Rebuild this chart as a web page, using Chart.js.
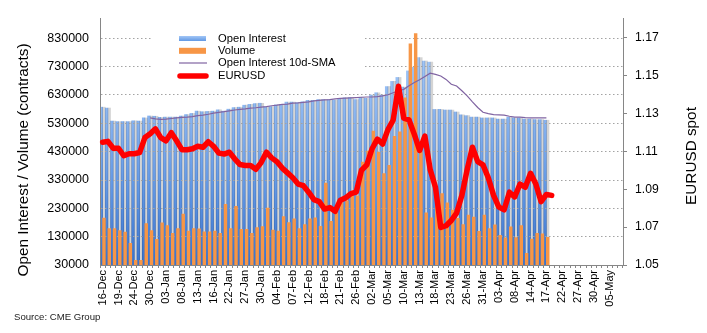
<!DOCTYPE html>
<html>
<head>
<meta charset="utf-8">
<script src="https://cdn.jsdelivr.net/npm/chart.js@4.4.1/dist/chart.umd.min.js"></script>
<style>
    body { margin: 0; background: #fff; }
    canvas { display: block; }
</style>
</head>
<body>
<canvas id="myChart" width="707" height="333"></canvas>
<script>
// trading days (CME), a label is shown every 3rd day
var dates = [
    "16-Dec","17-Dec","18-Dec","19-Dec","20-Dec","23-Dec","24-Dec","26-Dec","27-Dec","30-Dec","31-Dec",
    "02-Jan","03-Jan","06-Jan","07-Jan","08-Jan","09-Jan","10-Jan","13-Jan","14-Jan","15-Jan","16-Jan","17-Jan",
    "21-Jan","22-Jan","23-Jan","24-Jan","27-Jan","28-Jan","29-Jan","30-Jan","31-Jan",
    "03-Feb","04-Feb","05-Feb","06-Feb","07-Feb","10-Feb","11-Feb","12-Feb","13-Feb","14-Feb","18-Feb","19-Feb",
    "20-Feb","21-Feb","24-Feb","25-Feb","26-Feb","27-Feb","28-Feb",
    "02-Mar","03-Mar","04-Mar","05-Mar","06-Mar","09-Mar","10-Mar","11-Mar","12-Mar","13-Mar","16-Mar","17-Mar",
    "18-Mar","19-Mar","20-Mar","23-Mar","24-Mar","25-Mar","26-Mar","27-Mar","30-Mar","31-Mar",
    "01-Apr","02-Apr","03-Apr","06-Apr","07-Apr","08-Apr","09-Apr","13-Apr","14-Apr","15-Apr","16-Apr","17-Apr",
    "20-Apr","21-Apr","22-Apr","23-Apr","24-Apr","27-Apr","28-Apr","29-Apr","30-Apr",
    "01-May","04-May","05-May","06-May","07-May"
];

var openInterest = [
    587000, 584000, 538000, 536000, 536000, 536000, 539000, 538000, 549000, 556000,
    555000, 551000, 552000, 552000, 552000, 556000, 561000, 565000, 573000, 571000,
    572000, 573000, 578000, 573000, 580000, 586000, 587000, 594000, 597000, 600000,
    601000, 588000, 589000, 595000, 597000, 605000, 605000, 603000, 606000, 611000,
    611000, 614000, 614000, 614000, 612000, 617000, 620000, 621000, 614000, 622000,
    618000, 630000, 638000, 630000, 660000, 678000, 692000, 658000, 715000, 728000,
    762000, 750000, 746000, 579000, 579000, 577000, 577000, 570000, 560000, 557000,
    552000, 552000, 549000, 549000, 549000, 545000, 545000, 552000, 549000, 549000,
    545000, 545000, 543000, 543000, 541000
];

var volume = [
    197000, 160000, 160000, 153000, 147000, 108000, 48000, 48000, 177000, 153000,
    122000, 180000, 170000, 143000, 160000, 211000, 151000, 160000, 159000, 148000,
    148000, 151000, 143000, 245000, 160000, 238000, 157000, 157000, 143000, 163000,
    167000, 232000, 154000, 151000, 202000, 181000, 194000, 160000, 174000, 194000,
    198000, 168000, 320000, 185000, 215000, 253000, 258000, 275000, 275000, 394000,
    433000, 504000, 429000, 354000, 383000, 485000, 501000, 621000, 812000, 848000,
    430000, 215000, 198000, 260000, 283000, 251000, 225000, 196000, 174000, 207000,
    200000, 150000, 207000, 160000, 173000, 136000, 127000, 166000, 128000, 170000,
    72000, 123000, 143000, 141000, 129000
];

var oiSma10 = [
    null, null, null, null, null, null, null, null, null, 549000,
    546000, 544000, 545000, 547000, 549000, 551000, 552000, 554000, 557000, 559000,
    562000, 566000, 569000, 571000, 574000, 577000, 579000, 581000, 584000, 585000,
    587000, 589000, 592000, 594000, 597000, 598000, 601000, 602000, 604000, 606000,
    609000, 611000, 613000, 614000, 616000, 618000, 619000, 620000, 621000, 622000,
    623000, 623000, 624000, 627000, 631000, 638000, 645000, 650000, 663000, 674000,
    684000, 695000, 707000, 703000, 697000, 685000, 668000, 662000, 645000, 627000,
    606000, 586000, 569000, 564000, 561000, 560000, 559000, 555000, 552000, 552000,
    550000, 549000, 549000, 549000, 549000
];

var eurusd = [
    1.1147, 1.1152, 1.1116, 1.1116, 1.1076, 1.1087, 1.1087, 1.1093, 1.1172, 1.1192,
    1.1218, 1.1172, 1.1155, 1.1198, 1.1155, 1.1108, 1.1108, 1.1113, 1.1126, 1.1121,
    1.1150, 1.1126, 1.1090, 1.1085, 1.1095, 1.1060, 1.1030, 1.1025, 1.1025, 1.1005,
    1.1040, 1.1095, 1.1065, 1.1045, 1.1011, 1.0986, 1.0960, 1.0927, 1.0918, 1.0884,
    1.0845, 1.0834, 1.0795, 1.0803, 1.0783, 1.0842, 1.0854, 1.0876, 1.0884, 1.1000,
    1.1028, 1.1113, 1.1164, 1.1138, 1.1214, 1.1265, 1.1443, 1.1274, 1.1265, 1.1189,
    1.1104, 1.1180, 1.1003, 1.0910, 1.0698, 1.0707, 1.0735, 1.0774, 1.0867, 1.1003,
    1.1121, 1.1045, 1.1028, 1.0960, 1.0867, 1.0805, 1.0791, 1.0884, 1.0859, 1.0927,
    1.0910, 1.0984, 1.0927, 1.0834, 1.0872, 1.0867
];

var leftTicks = [30000, 130000, 230000, 330000, 430000, 530000, 630000, 730000, 830000];
var rightTicks = [1.05, 1.07, 1.09, 1.11, 1.13, 1.15, 1.17];
var labelEvery = 3;

var FONT = "'Liberation Sans', Arial, sans-serif";
var AXIS_GREY = "#868686";

// grey drop shadow behind the open interest columns (drawn under the volume bars)
var barShadow = {
    id: "barShadow",
    beforeDatasetDraw: function(chart, args) {
        if (args.index !== 0) return;
        var c = chart.ctx;
        c.save();
        c.globalCompositeOperation = "destination-over";
        c.shadowColor = "rgba(0, 0, 0, 0.17)";
        c.shadowOffsetX = 2.6;
        c.shadowBlur = 0;
    },
    afterDatasetDraw: function(chart, args) {
        if (args.index === 0) chart.ctx.restore();
    }
};

// legend box, axis titles and source line
var extras = {
    id: "extras",
    afterDraw: function(chart) {
        var c = chart.ctx;
        var ds = chart.data.datasets;
        c.save();

        c.fillStyle = "#fff";
        c.fillRect(152, 32, 211, 53);

        var sx = 179, tx = 218;
        var rows = [38.5, 50.8, 63, 76];
        var g = c.createLinearGradient(0, rows[0] - 3, 0, rows[0] + 3);
        g.addColorStop(0, "#a9cbf8");
        g.addColorStop(1, "#5b94e2");
        c.fillStyle = g;
        c.fillRect(sx, rows[0] - 2.5, 27, 5);
        c.fillStyle = "#f79646";
        c.fillRect(sx, rows[1] - 3, 27, 6);
        c.strokeStyle = "#8064a2";
        c.lineWidth = 1.2;
        c.beginPath(); c.moveTo(sx, rows[2]); c.lineTo(sx + 28, rows[2]); c.stroke();
        c.strokeStyle = "#ff0000";
        c.lineWidth = 5.5;
        c.lineCap = "round";
        c.beginPath(); c.moveTo(sx + 1, rows[3]); c.lineTo(sx + 27, rows[3]); c.stroke();

        c.fillStyle = "#000";
        c.font = "11.2px " + FONT;
        c.textBaseline = "middle";
        c.textAlign = "left";
        for (var i = 0; i < 4; i++) {
            c.fillText(ds[i].label, tx, rows[i]);
        }

        // axis titles, both reading bottom to top
        c.font = "15.3px " + FONT;
        c.textAlign = "center";
        c.textBaseline = "alphabetic";
        c.save();
        c.translate(28, 160);
        c.rotate(-Math.PI / 2);
        c.fillText("Open Interest / Volume (contracts)", 0, 0);
        c.restore();
        c.save();
        c.translate(696, 156);
        c.rotate(-Math.PI / 2);
        c.fillText("EURUSD spot", 0, 0);
        c.restore();

        c.font = "9.6px " + FONT;
        c.textAlign = "left";
        c.fillStyle = "#222";
        c.fillText("Source: CME Group", 14, 320);
        c.restore();
    }
};

var ctx = document.getElementById("myChart").getContext("2d");

var myChart = new Chart(ctx, {
    type: "bar",
    data: {
        labels: dates,
        datasets: [{
            label: "Open Interest",
            data: openInterest,
            yAxisID: "y",
            order: 2,
            categoryPercentage: 1,
            barPercentage: 1,
            backgroundColor: function(context) {
                var area = context.chart.chartArea;
                if (!area) return "#6a9fe8";
                var g = context.chart.ctx.createLinearGradient(0, area.top, 0, area.bottom);
                g.addColorStop(0, "#afd0fa");
                g.addColorStop(0.35, "#8fb9f3");
                g.addColorStop(0.7, "#5f96e5");
                g.addColorStop(1, "#3872cd");
                return g;
            }
        }, {
            label: "Volume",
            data: volume,
            yAxisID: "y",
            order: 3,
            categoryPercentage: 1,
            barPercentage: 1.3,
            backgroundColor: "#f79646"
        }, {
            type: "line",
            label: "Open Interest 10d-SMA",
            data: oiSma10,
            yAxisID: "y",
            order: 1,
            borderColor: "#8064a2",
            borderWidth: 1.2,
            pointRadius: 0,
            tension: 0,
            fill: false
        }, {
            type: "line",
            label: "EURUSD",
            data: eurusd,
            yAxisID: "y2",
            order: 0,
            borderColor: "#ff0000",
            borderWidth: 5.5,
            borderJoinStyle: "round",
            borderCapStyle: "round",
            pointRadius: 0,
            tension: 0,
            fill: false
        }]
    },
    options: {
        responsive: false,
        devicePixelRatio: 1,
        animation: false,
        layout: { padding: { top: 9, left: 0, right: 0, bottom: 0 } },
        plugins: {
            legend: { display: false },
            tooltip: { enabled: false }
        },
        scales: {
            x: {
                offset: true,
                grid: {
                    display: true,
                    drawOnChartArea: false,
                    drawTicks: true,
                    tickLength: 3,
                    tickColor: AXIS_GREY,
                    offset: true
                },
                border: { color: AXIS_GREY, width: 1 },
                ticks: {
                    autoSkip: false,
                    minRotation: 90,
                    maxRotation: 90,
                    padding: 2,
                    color: "#000",
                    font: { family: FONT, size: 11 },
                    callback: function(value, index) {
                        return index % labelEvery === 0 ? this.getLabelForValue(value) : "";
                    }
                },
                afterFit: function(scale) { scale.height = 68; }
            },
            y: {
                position: "left",
                min: 30000,
                max: 900000,
                afterBuildTicks: function(scale) {
                    scale.ticks = leftTicks.map(function(v) { return { value: v }; });
                },
                grid: { color: "#a3a3a3", lineWidth: 1, drawTicks: false },
                border: { color: AXIS_GREY, width: 1, dash: [1.5, 2.5] },
                ticks: {
                    padding: 11,
                    color: "#000",
                    font: { family: FONT, size: 12.5 },
                    callback: function(v) { return String(v); }
                },
                afterFit: function(scale) { scale.width = 100; }
            },
            y2: {
                position: "right",
                min: 1.05,
                max: 1.18,
                afterBuildTicks: function(scale) {
                    scale.ticks = rightTicks.map(function(v) { return { value: v }; });
                },
                grid: {
                    drawOnChartArea: false,
                    drawTicks: true,
                    tickLength: 4,
                    tickColor: AXIS_GREY
                },
                border: { color: AXIS_GREY, width: 1 },
                ticks: {
                    padding: 8,
                    color: "#000",
                    font: { family: FONT, size: 12.2 },
                    callback: function(v) { return v.toFixed(2); }
                },
                afterFit: function(scale) { scale.width = 84; }
            }
        }
    },
    plugins: [barShadow, extras]
});
</script>
</body>
</html>
